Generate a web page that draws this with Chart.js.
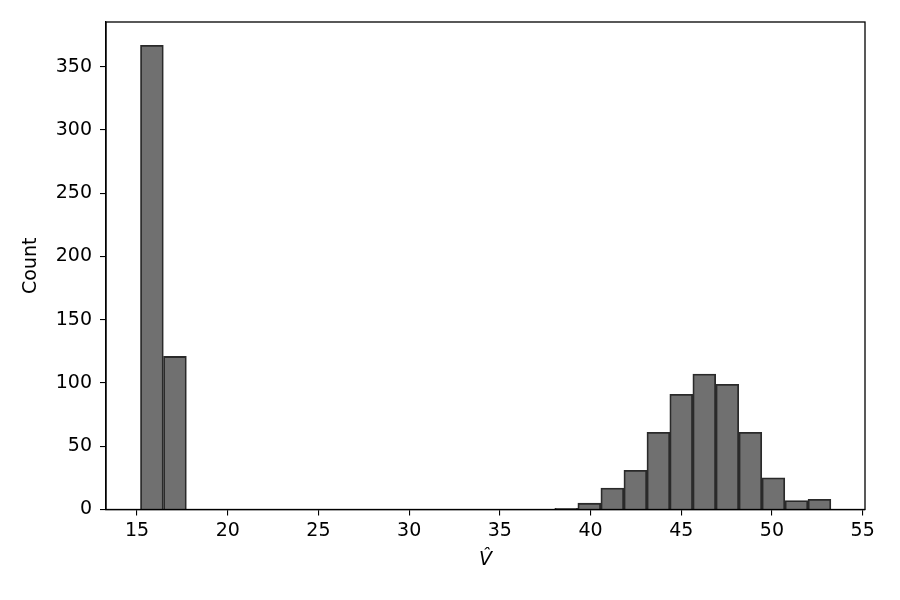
<!DOCTYPE html>
<html>
<head>
<meta charset="utf-8">
<script src="https://cdn.jsdelivr.net/npm/chart.js@4.4.0/dist/chart.umd.min.js"></script>
<style>
  html, body { margin: 0; padding: 0; background: #fff; }
  #wrap { width: 900px; height: 600px; position: relative; }
</style>
</head>
<body>
<div id="wrap"><canvas id="hist"></canvas></div>
<script>
// bin centres (histogram, 30 bins of ~1.27 wide)
const binCenters = [15.82, 17.09, 18.36, 19.63, 20.90, 22.17, 23.44, 24.70, 25.97, 27.24,
                    28.51, 29.78, 31.05, 32.32, 33.59, 34.86, 36.12, 37.39, 38.66, 39.93,
                    41.20, 42.47, 43.74, 45.00, 46.27, 47.54, 48.81, 50.08, 51.35, 52.62];
const counts = [367, 121, 0, 0, 0, 0, 0, 0, 0, 0,
                0, 0, 0, 0, 0, 0, 0, 0, 1, 5,
                17, 31, 61, 91, 107, 99, 61, 25, 7, 8];
const xTicks = [15, 20, 25, 30, 35, 40, 45, 50, 55];
const yTicks = [0, 50, 100, 150, 200, 250, 300, 350];
const xLabel = "V\u0302";
const yLabel = "Count";

const FONT = "'DejaVu Sans', sans-serif";

// draws the box around the axes and the two axis titles
const frame = {
    id: "frame",
    afterDraw(chart) {
        const { ctx, chartArea: a } = chart;
        ctx.save();
        ctx.strokeStyle = "#000";
        ctx.lineWidth = 1.3;
        ctx.strokeRect(a.left, a.top, a.right - a.left, a.bottom - a.top);

        ctx.fillStyle = "#000";
        ctx.textAlign = "center";
        ctx.textBaseline = "middle";
        ctx.font = "19px " + FONT;
        ctx.translate(31, (a.top + a.bottom) / 2);
        ctx.rotate(-Math.PI / 2);
        ctx.fillText(yLabel, 0, 0);
        ctx.restore();

        ctx.save();
        ctx.fillStyle = "#000";
        ctx.textAlign = "center";
        ctx.textBaseline = "middle";
        ctx.font = "italic 19px " + FONT;
        ctx.fillText(xLabel, (a.left + a.right) / 2, 560);
        ctx.restore();
    }
};

const ctx = document.getElementById("hist").getContext("2d");
const chart = new Chart(ctx, {
    type: "bar",
    data: {
        datasets: [{
            label: yLabel,
            data: binCenters.map((c, i) => ({ x: c, y: counts[i] })),
            backgroundColor: "#707070",
            borderColor: "#2a2a2a",
            borderWidth: 1.8,
            borderSkipped: "bottom",
            barPercentage: 1,
            categoryPercentage: 1
        }]
    },
    options: {
        responsive: true,
        maintainAspectRatio: false,
        animation: false,
        layout: { padding: { left: 0, top: 22, right: 35, bottom: 0 } },
        plugins: { legend: { display: false }, tooltip: { enabled: false } },
        scales: {
            x: {
                type: "linear",
                min: 13.29,
                max: 55.13,
                offset: false,
                afterBuildTicks: (s) => { s.ticks = xTicks.map(v => ({ value: v })); },
                afterFit: (s) => { s.height = 90.5; },
                grid: { offset: false, drawOnChartArea: false, drawTicks: true, tickLength: 6, color: "#000", lineWidth: 1.1 },
                border: { color: "#000", width: 1.3 },
                ticks: { color: "#000", font: { family: FONT, size: 19 }, padding: 4, maxRotation: 0 }
            },
            y: {
                min: 0,
                max: 385.35,
                afterBuildTicks: (s) => { s.ticks = yTicks.map(v => ({ value: v })); },
                afterFit: (s) => { s.width = 106; },
                grid: { drawOnChartArea: false, drawTicks: true, tickLength: 6, color: "#000", lineWidth: 1.1 },
                border: { color: "#000", width: 1.3 },
                ticks: { color: "#000", font: { family: FONT, size: 19 }, padding: 8 }
            }
        }
    },
    plugins: [frame]
});
</script>
</body>
</html>
